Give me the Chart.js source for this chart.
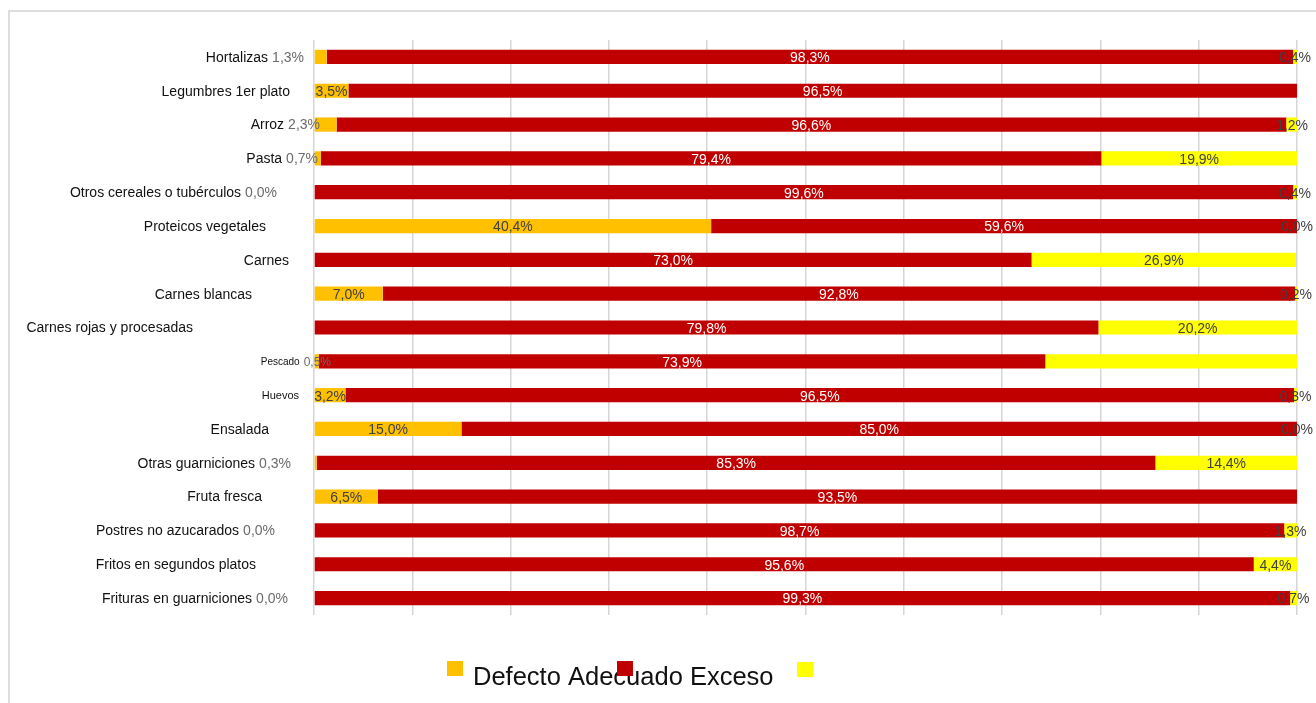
<!DOCTYPE html>
<html>
<head>
<meta charset="utf-8">
<script src="https://cdn.jsdelivr.net/npm/chart.js@4.4.1/dist/chart.umd.min.js"></script>
<style>
  html, body { margin: 0; padding: 0; background: #fff; overflow: hidden; }
  #frame {
    position: absolute; left: 8px; top: 10px; width: 1400px; height: 800px;
    border-top: 2px solid #dddddd; border-left: 2px solid #dddddd;
  }
  #plot { position: absolute; left: 0; top: 0; }
</style>
</head>
<body>
<div id="frame"></div>
<canvas id="plot" width="1316" height="703"></canvas>
<script>
const categories = [
  'Hortalizas', 'Legumbres 1er plato', 'Arroz', 'Pasta', 'Otros cereales o tubérculos',
  'Proteicos vegetales', 'Carnes', 'Carnes blancas', 'Carnes rojas y procesadas', 'Pescado',
  'Huevos', 'Ensalada', 'Otras guarniciones', 'Fruta fresca', 'Postres no azucarados',
  'Fritos en segundos platos', 'Frituras en guarniciones',
];
const seriesNames = ['Defecto', 'Adecuado', 'Exceso'];
const defectoValues = [1.3, 3.5, 2.3, 0.7, 0.0, 40.4, null, 7.0, null, 0.5, 3.2, 15.0, 0.3, 6.5, 0.0, null, 0.0];
const adecuadoValues = [98.3, 96.5, 96.6, 79.4, 99.6, 59.6, 73.0, 92.8, 79.8, 73.9, 96.5, 85.0, 85.3, 93.5, 98.7, 95.6, 99.3];
const excesoValues = [0.4, null, 1.2, 19.9, 0.4, 0.0, 26.9, 0.2, 20.2, 25.6, 0.3, 0.0, 14.4, null, 1.3, 4.4, 0.7];
// defecto value written next to the category name instead of inside the bar
const defectoInAxis = [true, false, true, true, true, false, false, false, false, true, false, false, true, false, true, false, true];
const excesoSinEtiqueta = ['Pescado'];

// label layout (right edge of each category label, font size)
const labelRight = [304, 290, 320, 318, 277, 266, 289, 252, 193, 331, 299, 269, 291, 262, 275, 256, 288];
const labelSize = [14, 14, 14, 14, 14, 14, 14, 14, 14, 10, 11, 14, 14, 14, 14, 14, 14];

const colors = ['#ffc000', '#c00000', '#ffff00'];
const FONT = '"Liberation Sans", Arial, sans-serif';

const fmt = (v) => v.toFixed(1).replace('.', ',') + '%';

const axisLabels = {
  id: 'axisLabels',
  afterDraw(chart) {
    const ctx = chart.ctx;
    const yScale = chart.scales.y;
    ctx.save();
    ctx.textBaseline = 'middle';
    ctx.textAlign = 'right';
    categories.forEach((name, i) => {
      const y = yScale.getPixelForValue(i) + 1;
      let right = labelRight[i];
      const size = labelSize[i];
      if (defectoInAxis[i] && defectoValues[i] !== null) {
        const pctSize = size < 14 ? 12 : 14;
        ctx.font = `${pctSize}px ${FONT}`;
        ctx.fillStyle = '#6b6b6b';
        const pct = fmt(defectoValues[i]);
        ctx.fillText(pct, right, y);
        right -= ctx.measureText(pct).width + 4;
      }
      ctx.font = `${size}px ${FONT}`;
      ctx.fillStyle = '#111111';
      ctx.fillText(name, right, y);
    });
    ctx.restore();
  },
};

const barLabels = {
  id: 'barLabels',
  afterDatasetsDraw(chart) {
    const ctx = chart.ctx;
    ctx.save();
    ctx.font = `14px ${FONT}`;
    ctx.textAlign = 'center';
    ctx.textBaseline = 'middle';
    chart.data.datasets.forEach((ds, d) => {
      const meta = chart.getDatasetMeta(d);
      meta.data.forEach((bar, i) => {
        const v = ds.data[i];
        if (v === null || v === undefined) return;
        if (d === 0 && defectoInAxis[i]) return;
        if (d === 2 && excesoSinEtiqueta.includes(categories[i])) return;
        ctx.fillStyle = d === 1 ? '#ffffff' : '#404040';
        ctx.fillText(fmt(v), (bar.x + bar.base) / 2, bar.y + 1.5);
      });
    });
    ctx.restore();
  },
};

const looseLegend = {
  id: 'looseLegend',
  afterDraw(chart) {
    const ctx = chart.ctx;
    ctx.save();
    ctx.fillStyle = colors[0];
    ctx.fillRect(447, 661, 16, 15);
    ctx.fillStyle = '#111111';
    ctx.font = `25.5px ${FONT}`;
    ctx.textBaseline = 'alphabetic';
    ctx.fillText(seriesNames.join(' '), 473, 685);
    ctx.fillStyle = colors[1];
    ctx.fillRect(617, 661, 16, 15);
    ctx.fillStyle = colors[2];
    ctx.fillRect(797, 662, 16, 15);
    ctx.restore();
  },
};

new Chart(document.getElementById('plot'), {
  type: 'bar',
  data: {
    labels: categories,
    datasets: [defectoValues, adecuadoValues, excesoValues].map((values, k) => ({
      label: seriesNames[k],
      data: values,
      backgroundColor: colors[k],
      borderWidth: 0,
      barPercentage: 1,
      categoryPercentage: 0.42,
    })),
  },
  options: {
    indexAxis: 'y',
    responsive: false,
    animation: false,
    layout: { padding: { left: 314, right: 19, top: 40, bottom: 88 } },
    plugins: { legend: { display: false }, tooltip: { enabled: false } },
    scales: {
      x: {
        stacked: true,
        min: 0,
        max: 100,
        ticks: { display: false, stepSize: 10 },
        grid: { color: '#d6d6d6', lineWidth: 1.5, drawTicks: false },
        border: { display: false },
      },
      y: {
        stacked: true,
        display: false,
      },
    },
  },
  plugins: [axisLabels, barLabels, looseLegend],
});
</script>
</body>
</html>
